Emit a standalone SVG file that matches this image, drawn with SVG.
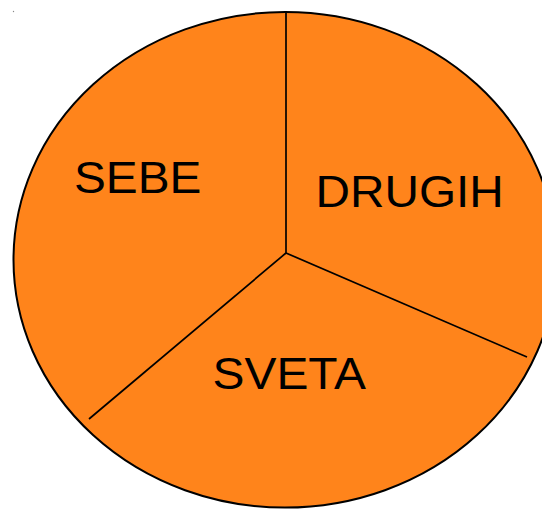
<svg xmlns="http://www.w3.org/2000/svg" width="542" height="509" viewBox="0 0 542 509">
<style>
.lbl{font-family:"Liberation Sans",Arial,sans-serif;font-size:45px;fill:#000}
.sep{stroke:#000;stroke-width:1.7;fill:none}
</style>
<rect width="542" height="509" fill="#fff"/>
<circle cx="13.5" cy="11.5" r="0.7" fill="#888"/>
<g id="pie">
<ellipse cx="285" cy="259.8" rx="271.5" ry="247.8" fill="#ff841b" stroke="#000" stroke-width="2"/>
</g>
<g id="connectors">
<line class="sep" x1="286" y1="253" x2="286" y2="12"/>
<line class="sep" x1="286" y1="253" x2="527" y2="357"/>
<line class="sep" x1="286" y1="253" x2="89" y2="419"/>
</g>
<g id="sebe"><text class="lbl" x="74" y="193" textLength="127.4" lengthAdjust="spacingAndGlyphs">SEBE</text></g>
<g id="drugih"><text class="lbl" x="315.5" y="207" textLength="188.3" lengthAdjust="spacingAndGlyphs">DRUGIH</text></g>
<g id="sveta"><text class="lbl" x="212.5" y="389" textLength="153.5" lengthAdjust="spacingAndGlyphs">SVETA</text></g>
</svg>
